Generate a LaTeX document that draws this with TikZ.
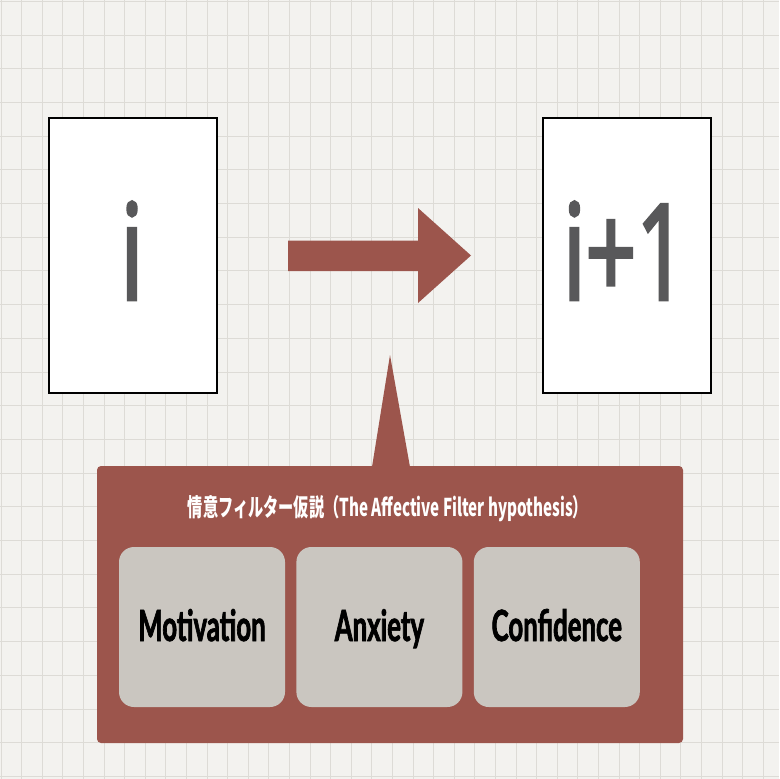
\documentclass[tikz,border=0pt]{standalone}
\usepackage{fontspec}
\setmainfont{Lato}[FakeStretch=0.62]
\newfontfamily\labelfont{Lato}[FakeStretch=0.6, UprightFont={* Bold}, UprightFeatures={FakeBold=1.6}]
\newfontfamily\bigfont{Open Sans}[FakeStretch=0.66, FakeBold=2.2]
\newfontfamily\jpfont{Noto Sans CJK JP}[FakeStretch=0.62]
\usepackage{tikz}
\usetikzlibrary{positioning}

\definecolor{paper}{HTML}{F3F2EF}
\definecolor{gridgray}{HTML}{DDDBD6}
\definecolor{filterred}{HTML}{9C554C}
\definecolor{factorgray}{HTML}{CAC6C0}
\definecolor{inkgray}{HTML}{58585A}

\tikzset{
  card/.style={draw=black, line width=2pt, fill=white, minimum width=168pt, minimum height=275pt, inner sep=0pt},
  bigtext/.style={text=inkgray, font=\bigfont\fontsize{134}{134}\selectfont, inner sep=0pt},
  factor/.style={fill=factorgray, rounded corners=15pt, minimum width=166pt, minimum height=160pt,
    text height=31pt, text depth=3pt, inner sep=0pt, font=\labelfont\fontsize{43}{43}\selectfont},
}

\begin{document}
\begin{tikzpicture}[x=1pt, y=-1pt]
      \useasboundingbox (0,0) rectangle (779,779);
      \fill[paper] (0,0) rectangle (779,779);
      \foreach \gx in {1.1,21.7,...,779} \draw[gridgray, line width=1pt] (\gx,0) -- (\gx,779);
      \foreach \gy in {1.3,35,...,779} \draw[gridgray, line width=1pt] (0,\gy) -- (779,\gy);

      \node[card] (input) at (132.5,255) {};
      \node[card] (output) at (626.5,255) {};
      \node[bigtext, anchor=base] (ilabel) at (132,300) {i};
      \node[bigtext, anchor=base] (olabel) at (625,300) {i+1};

      \fill[filterred] (288,240.5) -- (418,240.5) -- (418,208) -- (471,255.5)
        -- (418,303) -- (418,271) -- (288,271) -- cycle;

      \node[fill=filterred, rounded corners=4pt, minimum width=586pt, minimum height=277pt] (filter) at (390,604.5) {};
      \fill[filterred] (372,467) -- (390,355) -- (410,467) -- cycle;
      \node[text=white, font=\jpfont\bfseries\fontsize{24.5}{24.5}\selectfont, anchor=base] (title) at (388,516) {情意フィルター仮説（The Affective Filter hypothesis）};

      \node[factor] (motivation) at (202,627) {Motivation};
      \node[factor, right=11pt of motivation] (anxiety) {Anxiety};
      \node[factor, right=11pt of anxiety] (confidence) {Confidence};
\end{tikzpicture}
\end{document}
